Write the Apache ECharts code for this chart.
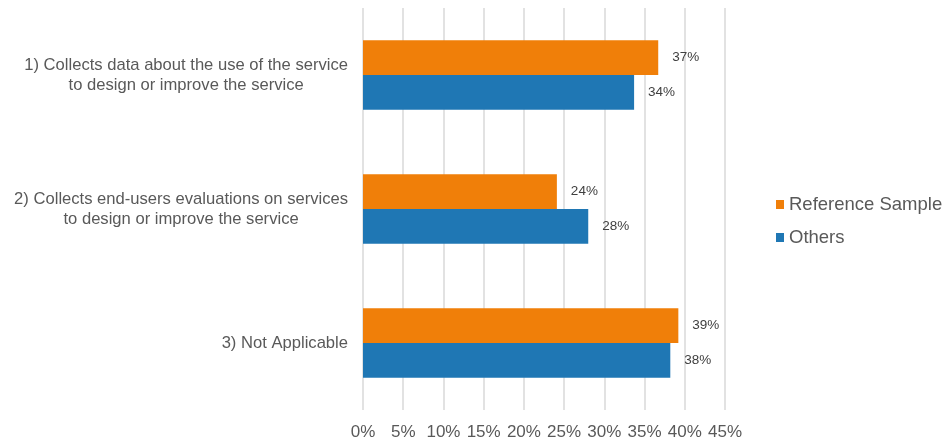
<!DOCTYPE html>
<html>
<head>
<meta charset="utf-8">
<script src="https://cdn.jsdelivr.net/npm/echarts@6/dist/echarts.min.js"></script>
<style>
  html, body { margin: 0; padding: 0; background: #fff; }
  #chart { width: 949px; height: 446px; }
</style>
</head>
<body>
<div id="chart"></div>
<script>
var categories = [
  "1) Collects data about the use of the service\nto design or improve the service",
  "2) Collects end-users evaluations on services\nto design or improve the service",
  "3) Not Applicable"
];
var referenceSample = [36.7, 24.1, 39.2];
var others = [33.7, 28.0, 38.2];
var seriesNames = ["Reference Sample", "Others"];

var chart = echarts.init(document.getElementById("chart"));

var labelOpt = {
  show: true,
  position: "right",
  distance: 14,
  color: "#404040",
  fontSize: 13.5,
  formatter: function (p) { return Math.round(p.value) + "%"; }
};

chart.setOption({
  animation: false,
  textStyle: { fontFamily: "Liberation Sans, Arial, sans-serif" },
  legend: {
    orient: "vertical",
    left: 771,
    top: 190,
    itemWidth: 8,
    itemHeight: 9,
    itemGap: 14,
    icon: "rect",
    textStyle: { fontSize: 18.5, color: "#595959" },
    data: seriesNames
  },
  grid: { left: 363, right: 224, top: 8, height: 402, containLabel: false },
  xAxis: {
    type: "value",
    min: 0,
    max: 45,
    interval: 5,
    axisLabel: { formatter: "{value}%", fontSize: 17, color: "#595959", margin: 14 },
    axisLine: { show: false },
    axisTick: { show: false },
    splitLine: { show: true, lineStyle: { color: "#d9d9d9", width: 1.5 } }
  },
  yAxis: {
    type: "category",
    inverse: true,
    data: categories,
    axisLine: { show: false },
    axisTick: { show: false },
    axisLabel: {
      margin: 15,
      align: "right",
      // center each line inside the right-aligned block
      formatter: function (v) {
        return v.split("\n").map(function (l) { return "{c|" + l + "}"; }).join("\n");
      },
      rich: {
        c: { align: "center", fontSize: 16.6, lineHeight: 20, color: "#595959" }
      }
    }
  },
  series: [
    {
      name: seriesNames[0],
      type: "bar",
      data: referenceSample,
      barGap: "0%",
      barCategoryGap: "48%",
      itemStyle: { color: "#f07f09" },
      label: labelOpt
    },
    {
      name: seriesNames[1],
      type: "bar",
      data: others,
      barGap: "0%",
      barCategoryGap: "48%",
      itemStyle: { color: "#1f77b4" },
      label: labelOpt
    }
  ]
});
</script>
</body>
</html>
